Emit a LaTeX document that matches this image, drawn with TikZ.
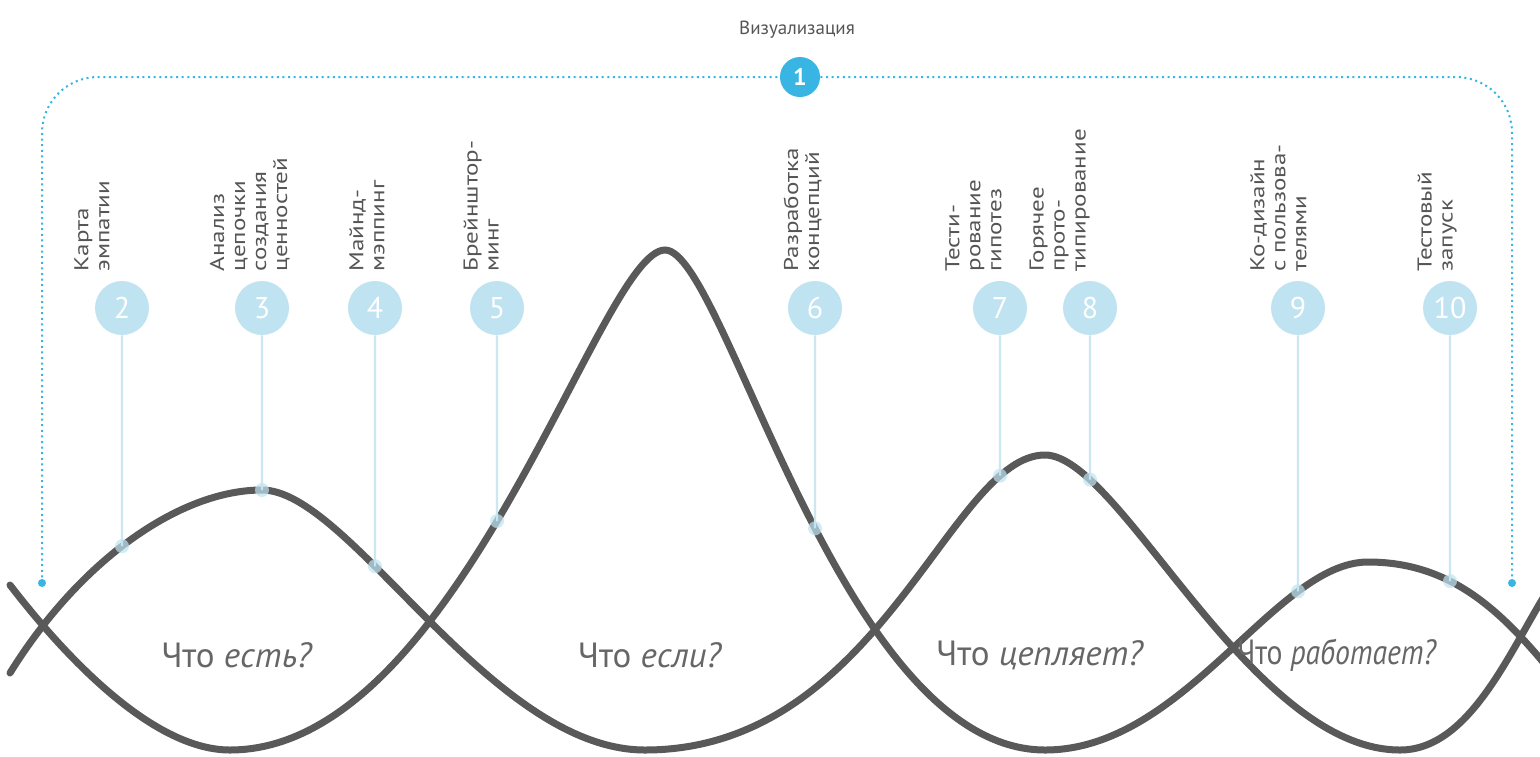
\documentclass[tikz,border=0pt]{standalone}
\usepackage{fontspec}
\setmainfont{PT Sans}
\usetikzlibrary{intersections}
\definecolor{WaveGray}{HTML}{595959}
\definecolor{StepBlue}{HTML}{BFE3F1}
\definecolor{StemBlue}{HTML}{CDE7F1}
\definecolor{VisBlue}{HTML}{38B5E2}
\definecolor{LabelGray}{HTML}{555555}

\begin{document}
\begin{tikzpicture}[x=0.5pt,y=-0.5pt,
  wave/.style={WaveGray,line width=3.5pt,line cap=round},
  stem/.style={draw=StemBlue,line width=1.2pt},
  stepdot/.style={circle,fill=StepBlue,minimum size=27pt,inner sep=0pt,text=white,font=\fontsize{15}{15}\selectfont},
  steplabel/.style={rotate=90,xscale=1.25,anchor=south west,align=left,inner sep=0pt,text=LabelGray,font=\fontsize{10}{10.5}\selectfont},
  question/.style={text=LabelGray!90,font=\fontsize{17.5}{17.5}\selectfont}]
\fill[white] (0,0) rectangle (1540,756);
\useasboundingbox (0,0) rectangle (1540,756);

% the two waves
\draw[wave,name path=waveB]
  (10,585) .. controls (60,650) and (150,750) .. (230,750)
  .. controls (460,750) and (600,250) .. (665,250)
  .. controls (725,250) and (840,750) .. (1045,750)
  .. controls (1185,750) and (1275,562) .. (1368,562)
  .. controls (1450,562) and (1500,610) .. (1548,668);
\draw[wave,name path=waveA]
  (10,673) .. controls (80,560) and (180,490) .. (262,490)
  .. controls (350,490) and (490,750) .. (645,750)
  .. controls (880,750) and (950,455) .. (1045,455)
  .. controls (1120,455) and (1250,750) .. (1400,750)
  .. controls (1470,750) and (1510,650) .. (1548,590);

% visualisation bracket
\node[text=LabelGray,font=\fontsize{9.5}{9.5}\selectfont] (vistitle) at (797,30) {Визуализация};
\node[circle,fill=VisBlue,minimum size=20pt,inner sep=0pt,text=white,font=\fontsize{12}{12}\selectfont\bfseries] (v1) at (800,77) {1};
\coordinate (bl) at (42,583); \coordinate (br) at (1512,583);
\draw[VisBlue,line width=1pt,dash pattern=on 1pt off 1.8pt,rounded corners=28pt] (bl) |- (v1.west);
\draw[VisBlue,line width=1pt,dash pattern=on 1pt off 1.8pt,rounded corners=28pt] (v1.east) -| (br);
\fill[VisBlue] (bl) circle (2pt) (br) circle (2pt);

% steps
\node[stepdot] (m2) at (122,308) {2};
\node[steplabel] (l2) at (110,272) {Карта\\эмпатии};
\node[stepdot] (m3) at (262,308) {3};
\node[steplabel] (l3) at (290,272) {Анализ\\цепочки\\создания\\ценностей};
\node[stepdot] (m4) at (375,308) {4};
\node[steplabel] (l4) at (385,272) {Майнд-\\мэппинг};
\node[stepdot] (m5) at (497,308) {5};
\node[steplabel] (l5) at (499,272) {Брейнштор-\\минг};
\node[stepdot] (m6) at (815,308) {6};
\node[steplabel] (l6) at (822,272) {Разработка\\концепций};
\node[stepdot] (m7) at (1000,308) {7};
\node[steplabel] (l7) at (1002,272) {Тести-\\рование\\гипотез};
\node[stepdot] (m8) at (1090,308) {8};
\node[steplabel] (l8) at (1090,272) {Горячее\\прото-\\типирование};
\node[stepdot] (m9) at (1298,308) {9};
\node[steplabel] (l9) at (1307,272) {Ко-дизайн\\с пользова-\\телями};
\node[stepdot] (m10) at (1450,308) {10};
\node[steplabel] (l10) at (1457,272) {Тестовый\\запуск};

% stems down to the wave each step sits on
\foreach \i/\w in {2/A,3/A,4/A,5/B,6/B,7/A,8/A,9/B,10/B}{
  \path[name path=stemline] (m\i.south) -- ++(0,460);
  \path[name intersections={of=stemline and wave\w,by={e\i}}];
  \draw[stem] (m\i) -- (e\i);
  \fill[StepBlue,opacity=.7] (e\i) circle (3.5pt);
}

% questions
\node[question] (q1) at (237,655) {Что \textit{есть?}};
\node[question] (q2) at (650,655) {Что \textit{если?}};
\node[question] (q3) at (1040,655) {Что \textit{цепляет?}};
\node[question,xscale=.85] (q4) at (1337,655) {Что \textit{работает?}};
\end{tikzpicture}
\end{document}
